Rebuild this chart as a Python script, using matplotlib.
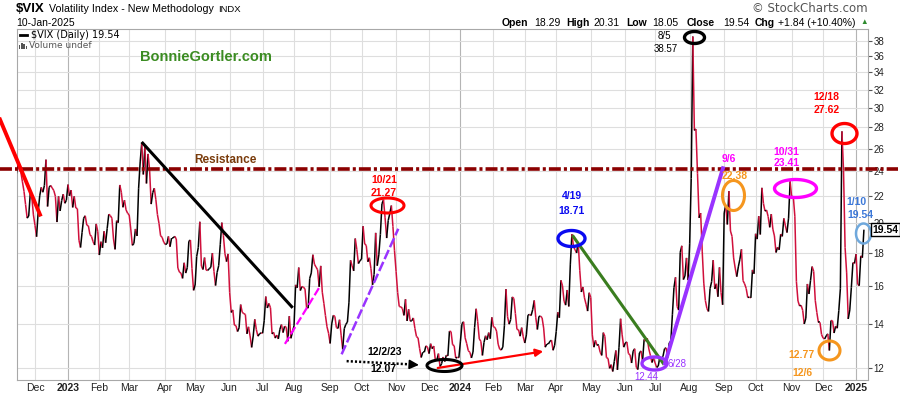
import numpy as np
import pandas as pd
import matplotlib
matplotlib.use("Agg")
import matplotlib.pyplot as plt
from matplotlib.collections import LineCollection
from matplotlib.path import Path
from matplotlib.patches import Rectangle
from matplotlib.transforms import Affine2D, blended_transform_factory

plt.rcParams["font.family"] = ["Liberation Sans", "DejaVu Sans"]
plt.rcParams["lines.scale_dashes"] = False

# NYSE closures inside the window
holidays = [
    "2022-11-24", "2022-12-26", "2023-01-02", "2023-01-16", "2023-02-20",
    "2023-04-07", "2023-05-29", "2023-06-19", "2023-07-04", "2023-09-04",
    "2023-11-23", "2023-12-25", "2024-01-01", "2024-01-15", "2024-02-19",
    "2024-03-29", "2024-05-27", "2024-06-19", "2024-07-04", "2024-09-02",
    "2024-11-28", "2024-12-25", "2025-01-01", "2025-01-09",
]

# $VIX daily closes, one list per month
vix_nov22 = [23.73, 24.54, 24.11, 23.93, 23.12, 22.36, 21.35, 20.35, 20.50, 22.21, 21.89, 20.58]
vix_dec22 = [19.84, 19.06, 20.75, 22.01, 22.68, 22.29, 22.83, 25.00, 21.20, 22.68, 22.83, 22.62,
             22.42, 21.97, 20.07, 21.97, 20.87, 21.65, 22.14, 21.44, 21.67]
vix_jan23 = [22.90, 22.01, 22.46, 21.13, 21.97, 21.09, 21.04, 18.83, 18.35, 19.36, 20.34, 20.52,
             19.85, 19.81, 19.20, 19.08, 18.73, 18.51, 19.94, 19.40]
vix_feb23 = [17.87, 18.73, 18.33, 19.43, 18.66, 19.63, 20.63, 20.53, 20.34, 18.91, 18.23, 20.17,
             20.02, 22.87, 22.29, 21.14, 21.67, 20.95, 20.70]
vix_mar23 = [20.58, 19.59, 18.49, 18.61, 19.59, 19.11, 22.61, 24.80, 26.52, 23.73, 26.14, 22.99,
             25.51, 24.12, 21.38, 22.26, 22.61, 21.71, 20.60, 19.97, 19.12, 19.02, 18.70]
vix_apr23 = [18.55, 18.58, 19.08, 18.40, 18.97, 18.97, 19.09, 18.91, 17.07, 16.83, 16.76, 16.46,
             17.39, 16.77, 17.09, 18.76, 18.84, 17.03, 15.78]
vix_may23 = [16.08, 17.78, 18.34, 20.09, 17.19, 16.98, 17.71, 16.94, 16.93, 17.03, 17.12, 17.99,
             16.87, 16.05, 16.81, 17.21, 18.53, 20.03, 19.14, 17.95, 17.46, 17.94]
vix_jun23 = [15.65, 14.60, 14.73, 13.96, 13.94, 13.65, 13.83, 15.01, 14.61, 14.54, 14.50, 13.54,
             13.88, 13.44, 12.91, 13.44, 14.25, 13.74, 13.43, 13.54, 13.59]
vix_jul23 = [13.57, 14.18, 15.44, 14.83, 15.07, 14.84, 13.54, 13.61, 13.34, 13.48, 13.30, 13.76,
             13.99, 13.60, 13.91, 13.86, 13.19, 14.41, 13.33, 13.63]
vix_aug23 = [13.93, 16.09, 15.92, 17.10, 15.77, 15.99, 15.96, 15.85, 14.84, 14.82, 16.46, 16.78,
             17.89, 17.30, 17.13, 16.97, 15.98, 17.20, 15.68, 15.08, 14.45, 13.88, 13.57]
vix_sep23 = [13.09, 14.02, 14.45, 14.40, 13.84, 13.80, 14.23, 13.48, 12.82, 13.79, 14.00, 14.11,
             15.14, 17.54, 17.20, 16.90, 18.94, 18.22, 17.34, 17.52]
vix_oct23 = [17.61, 19.78, 18.58, 18.49, 17.45, 17.70, 17.03, 16.09, 16.69, 19.32, 17.21, 17.88,
             19.22, 21.40, 21.71, 20.37, 18.97, 20.19, 20.68, 21.27, 19.75, 18.14]
vix_nov23 = [16.87, 15.66, 14.91, 14.89, 14.81, 14.45, 15.29, 14.17, 14.76, 14.16, 14.18, 14.32,
             13.80, 13.41, 13.35, 12.85, 12.46, 12.69, 12.69, 12.98, 12.92]
vix_dec23 = [12.63, 13.08, 12.85, 12.97, 12.35, 12.35, 12.63, 12.07, 12.19, 12.48, 12.28, 12.56,
             12.53, 13.67, 13.65, 13.03, 12.99, 12.43, 12.47, 12.45]
vix_jan24 = [13.20, 14.04, 14.13, 13.35, 13.08, 12.76, 12.69, 12.44, 12.70, 13.84, 14.79, 14.13,
             13.30, 13.19, 12.55, 13.14, 13.45, 13.26, 13.60, 13.31, 14.35]
vix_feb24 = [13.88, 13.85, 13.67, 13.06, 12.83, 12.79, 12.93, 13.93, 15.85, 14.38, 14.01, 14.24,
             15.42, 15.34, 14.54, 13.75, 13.74, 13.43, 13.84, 13.40]
vix_mar24 = [13.11, 13.49, 14.46, 14.50, 14.44, 14.74, 15.23, 14.33, 13.75, 14.40, 14.41, 14.33,
             13.82, 12.92, 13.06, 13.06, 13.19, 13.24, 12.78, 13.01]
vix_apr24 = [13.65, 14.61, 14.33, 16.35, 16.03, 15.19, 14.98, 15.80, 14.91, 17.31, 19.23, 18.40,
             18.21, 18.00, 18.71, 16.94, 15.69, 15.97, 15.37, 15.03, 14.67, 15.65]
vix_may24 = [15.39, 13.49, 12.92, 13.23, 13.00, 13.00, 12.69, 12.55, 13.60, 13.42, 12.45, 12.42,
             11.99, 12.15, 11.86, 12.29, 12.77, 11.93, 12.92, 14.28, 13.49, 12.92]
vix_jun24 = [13.11, 13.16, 12.63, 12.58, 12.22, 12.74, 12.85, 12.04, 11.94, 12.66, 12.75, 12.30,
             13.28, 13.20, 13.33, 12.84, 12.55, 12.24, 12.44]
vix_jul24 = [12.22, 12.03, 12.09, 12.48, 12.37, 12.51, 12.85, 12.89, 12.46, 13.12, 13.19, 14.48,
             15.93, 16.52, 14.91, 14.72, 18.04, 18.46, 16.39, 16.60, 17.69, 16.36]
vix_aug24 = [18.59, 23.39, 38.57, 27.71, 27.85, 23.79, 20.37, 20.71, 18.12, 16.19, 15.23, 14.80,
             14.65, 15.88, 16.27, 17.55, 15.86, 16.15, 15.43, 17.11, 15.65, 15.00]
vix_sep24 = [20.72, 21.32, 19.90, 22.38, 19.45, 19.08, 17.69, 17.07, 16.56, 17.14, 17.61, 18.23,
             16.33, 16.15, 15.89, 15.39, 15.41, 15.37, 16.96, 16.73]
vix_oct24 = [19.26, 18.90, 20.49, 19.21, 22.64, 21.42, 20.86, 20.93, 20.46, 19.70, 20.64, 19.58,
             19.11, 18.03, 18.37, 18.20, 19.24, 19.08, 20.33, 19.80, 19.34, 20.35, 23.16]
vix_nov24 = [21.88, 21.98, 20.49, 16.27, 15.20, 14.94, 14.97, 14.71, 14.02, 14.31, 16.14, 15.58,
             16.35, 17.16, 16.87, 15.24, 14.60, 14.10, 14.10, 13.51]
vix_dec24 = [13.34, 13.30, 13.45, 13.54, 12.77, 14.19, 14.18, 13.58, 13.92, 13.81, 14.69, 15.87,
             27.62, 24.09, 18.36, 16.78, 14.27, 14.73, 15.95, 17.40, 17.35]
vix_jan25 = [17.93, 16.13, 16.04, 17.82, 17.70, 19.54]

vix = np.array(vix_nov22 + vix_dec22 + vix_jan23 + vix_feb23 + vix_mar23 + vix_apr23
               + vix_may23 + vix_jun23 + vix_jul23 + vix_aug23 + vix_sep23 + vix_oct23
               + vix_nov23 + vix_dec23 + vix_jan24 + vix_feb24 + vix_mar24 + vix_apr24
               + vix_may24 + vix_jun24 + vix_jul24 + vix_aug24 + vix_sep24 + vix_oct24
               + vix_nov24 + vix_dec24 + vix_jan25)
dates = pd.bdate_range("2022-11-14", "2025-01-10", freq="C", holidays=holidays)
assert len(dates) == len(vix)
x = np.arange(len(vix))  # trading-day axis, like StockCharts

resistance = 24.2
y_ticks = list(range(12, 40, 2))

UP, DOWN = "black", "#d0103c"
RED, BLUE, PURPLE, MAGENTA = "#ff0000", "#0a0af0", "#9933ff", "#ff00ff"
ORANGE, LBLUE, GREEN = "#f5961e", "#6fa8dc", "#3a7d1f"

fig = plt.figure(figsize=(9, 3.96), dpi=100)
ax = fig.add_axes([17 / 900, 1 - 380 / 396, 851 / 900, 351 / 396])
# pixel coordinates with the origin at the top-left of the image
px = Affine2D().scale(1 / 900, -1 / 396).translate(0, 1) + fig.transFigure

# price line: black on up days, red on down days
pts = np.column_stack([x, vix])
segs = np.stack([pts[:-1], pts[1:]], axis=1)
cols = np.where(np.diff(vix) >= 0, UP, DOWN)
ax.add_collection(LineCollection(segs, colors=cols, linewidths=1.1, zorder=3))

ax.set_yscale("log")
ax.set_xlim(0.54, 542.6)
ax.set_ylim(11.51, 39.6)
ax.yaxis.set_minor_locator(plt.NullLocator())
ax.set_yticks(y_ticks, [str(t) for t in y_ticks])
ax.yaxis.tick_right()
ax.tick_params(axis="y", length=3, pad=1, labelsize=7, color="#555555", labelcolor="#222222")
ax.grid(axis="y", color="#dedede", lw=0.8, zorder=0)

month_start = [i for i in range(1, len(dates)) if dates[i].month != dates[i - 1].month]
labels = [d.strftime("%Y") if d.month == 1 else d.strftime("%b") for d in dates[month_start]]
ax.set_xticks(month_start, labels)
for lab, d in zip(ax.get_xticklabels(), dates[month_start]):
    if d.month == 1:
        lab.set_fontweight("bold")
    ax.axvline(dates.get_loc(d), color="#b4b4b4" if d.month == 1 else "#dedede", lw=0.8, zorder=0)
ax.tick_params(axis="x", length=0, pad=2.5, labelsize=7.5, labelcolor="#222222")
for s in ax.spines.values():
    s.set_color("#a8a8a8")


def ring(xc, yc, w, h, color, lw):
    # ellipse of w x h pixels drawn as a marker so the log axis does not bend it
    t = np.linspace(0, 2 * np.pi, 73)
    s = max(w, h)
    shape = Path(np.column_stack([w / s * np.cos(t), h / s * np.sin(t)]), closed=True)
    ax.plot(xc, yc, marker=shape, ms=s * 0.72, mfc="none", mec=color, mew=lw,
            ls="none", zorder=6, clip_on=False)


def label(xc, yc, s, color, size=7.5, weight="bold"):
    ax.text(xc, yc, s, color=color, fontsize=size, fontweight=weight,
            ha="center", va="center", zorder=7, clip_on=False)


# resistance line runs across the whole picture
ax.plot([-10.3, 561.7], [resistance, resistance], color="#8b0000", lw=2.6,
        dashes=(8.6, 2.2, 2.2, 2.2), clip_on=False, zorder=4)
label(133, 25.0, "Resistance", "#7a3c0c", size=8.5)

# trend lines
ax.plot([-10.3, 15.2], [28.8, 20.6], color=RED, lw=2.8, clip_on=False, zorder=5)
ax.plot([80.6, 175.5], [26.5, 14.9], color="black", lw=2.2, zorder=5)
ax.plot([171.2, 193.5], [13.07, 16.0], color=MAGENTA, lw=1.6, dashes=(6, 2.2), zorder=5)
ax.plot([207.3, 243.4], [12.6, 19.6], color=PURPLE, lw=1.8, dashes=(7.2, 2.2), zorder=5)
ax.plot([210.5, 254.5], [12.3, 12.15], color="black", lw=1.8, dashes=(1.5, 1.5), zorder=5)
ax.annotate("", xy=(258.3, 12.13), xytext=(253.0, 12.15),
            arrowprops=dict(arrowstyle="-|>", color="black", lw=1.2, mutation_scale=14), zorder=5)
ax.annotate("", xy=(337.5, 12.75), xytext=(266.8, 11.99),
            arrowprops=dict(arrowstyle="-|>", color=RED, lw=1.6, mutation_scale=11), zorder=5)
ax.plot([354.9, 412.2], [19.07, 12.2], color=GREEN, lw=2.2, zorder=5)
ax.plot([413.3, 450.2], [12.2, 24.26], color=PURPLE, lw=2.8, zorder=5)

# circled turning points
ring(236.2, 21.28, 33, 15, RED, 2.2)
ring(272.5, 12.13, 35, 12, "black", 2.2)
ring(353.7, 18.98, 27, 16, BLUE, 2.4)
ring(406.3, 12.22, 25, 13, PURPLE, 2.4)
ring(431.7, 38.45, 20, 12, "black", 2.4)
ring(456.3, 22.08, 22, 30, ORANGE, 2.2)
ring(496.1, 22.63, 42, 18, MAGENTA, 2.4)
ring(527.3, 27.5, 25, 20, RED, 2.4)
ring(517.7, 12.79, 21, 19, ORANGE, 2.2)
ring(539.1, 19.34, 15, 20, LBLUE, 1.8)

label(234.3, 23.28, "10/21", RED)
label(234.3, 22.24, "21.27", RED)
label(234.9, 12.7, "12/2/23", "black")
label(233.7, 11.97, "12.07", "black")
label(354, 22.0, "4/19", BLUE)
label(354, 20.87, "18.71", BLUE)
label(401.2, 11.63, "12.44", PURPLE, size=7, weight="normal")
label(420.9, 12.18, "6/28", PURPLE, size=7, weight="normal")
label(412.6, 38.6, "8/5", "black", size=7, weight="normal")
label(413.9, 36.86, "38.57", "black", size=7, weight="normal")
label(454, 25.07, "9/6", MAGENTA)
label(457.9, 23.6, "22.38", ORANGE)
label(490.8, 25.71, "10/31", MAGENTA)
label(490.8, 24.74, "23.41", MAGENTA)
label(516.3, 31.2, "12/18", RED)
label(516.3, 29.8, "27.62", RED)
label(500.3, 12.57, "12.77", ORANGE)
label(501, 11.81, "12/6", ORANGE)
label(535.4, 21.57, "1/10", "#3c78d8")
label(537.5, 20.58, "19.54", "#3c78d8")

# last price tag on the right axis
ax.text(1.0055, vix[-1], f"{vix[-1]:.2f}", transform=blended_transform_factory(ax.transAxes, ax.transData),
        fontsize=7.5, fontweight="bold", ha="left", va="center", clip_on=False, zorder=8,
        bbox=dict(boxstyle="square,pad=0.15", fc="white", ec="black", lw=1))

# header
fig.text(16, 9, "$VIX", transform=px, fontsize=9.5, fontweight="bold", va="center")
fig.text(49, 9.5, "Volatility Index - New Methodology", transform=px, fontsize=7.7, va="center")
fig.text(218, 9.5, "INDX", transform=px, fontsize=6.8, va="center")
fig.text(16, 22.5, "10-Jan-2025", transform=px, fontsize=7.5, va="center")
fig.text(868, 8.5, "\u00a9 StockCharts.com", transform=px, fontsize=8.5, color="#555555",
         ha="right", va="center", family="DejaVu Sans")
quote = [(502, "Open", True), (534, "18.29", False), (566, "High", True), (593, "20.31", False),
         (626, "Low", True), (652, "18.05", False), (687, "Close", True), (723, "19.54", False),
         (755, "Chg", True), (778, "+1.84 (+10.40%)", False)]
for xp, s, b in quote:
    fig.text(xp, 22.5, s, transform=px, fontsize=7.5, fontweight="bold" if b else "normal", va="center")
fig.text(860, 22.5, "\u25b2", transform=px, fontsize=5.5, color="#2e8b2e", va="center")

# legend block inside the plot
fig.add_artist(plt.Line2D([20, 27], [34.5, 34.5], transform=px, color="black", lw=2))
fig.text(31, 34.5, "$VIX (Daily) 19.54", transform=px, fontsize=7, va="center", family="DejaVu Sans")
for i, hgt in enumerate([4, 6, 5, 3]):
    fig.add_artist(Rectangle((18.5 + i * 2.4, 48.5), 1.6, -hgt, transform=px, color="#555555", lw=0))
fig.text(29, 45, "Volume undef", transform=px, fontsize=6.5, color="#555555", va="center",
         family="DejaVu Sans")
fig.text(140, 57, "BonnieGortler.com", transform=px, fontsize=10.5, fontweight="bold",
         color="#3b8c22", va="center")

fig.savefig("out.png", dpi=100)
